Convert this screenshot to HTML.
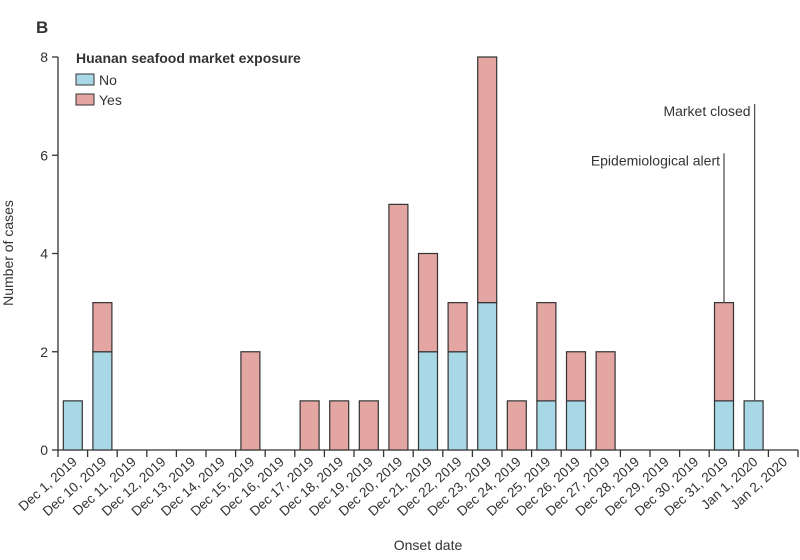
<!DOCTYPE html>
<html><head><meta charset="utf-8"><style>
body{margin:0;background:#fff;}
svg text{font-family:"Liberation Sans",sans-serif;fill:#333;}
</style></head><body>
<svg id="chart" width="800" height="555">
<text x="36" y="33" font-size="17" font-weight="bold">B</text>
<g id="axes"></g><g id="bars"></g>
<g>
<text x="76" y="63" font-size="14" font-weight="bold">Huanan seafood market exposure</text>
<rect x="76" y="74" width="18" height="11" fill="#a8d8e6" stroke="#333"/>
<text x="99" y="85" font-size="14">No</text>
<rect x="76" y="94" width="18" height="11" fill="#e3a6a2" stroke="#333"/>
<text x="99" y="105" font-size="14">Yes</text>
</g>
<text x="428" y="550" font-size="14" text-anchor="middle">Onset date</text>
<text transform="translate(13,253) rotate(-90)" font-size="14" text-anchor="middle">Number of cases</text>
</svg>
<script>
const categories=["Dec 1, 2019","Dec 10, 2019","Dec 11, 2019","Dec 12, 2019","Dec 13, 2019","Dec 14, 2019","Dec 15, 2019","Dec 16, 2019","Dec 17, 2019","Dec 18, 2019","Dec 19, 2019","Dec 20, 2019","Dec 21, 2019","Dec 22, 2019","Dec 23, 2019","Dec 24, 2019","Dec 25, 2019","Dec 26, 2019","Dec 27, 2019","Dec 28, 2019","Dec 29, 2019","Dec 30, 2019","Dec 31, 2019","Jan 1, 2020","Jan 2, 2020"];
const noValues=[1,2,0,0,0,0,0,0,0,0,0,0,2,2,3,0,1,1,0,0,0,0,1,1,0];
const yesValues=[0,1,0,0,0,0,2,0,1,1,1,5,2,1,5,1,2,1,2,0,0,0,2,0,0];
const yTicks=[0,2,4,6,8];
const annotations=[{label:"Epidemiological alert",index:22,top:6},{label:"Market closed",index:23,top:7}];
const ns="http://www.w3.org/2000/svg";
const X0=58,X1=798,Y0=450,Y8=57;
const step=(X1-X0)/categories.length;
const xc=i=>X0+step*(i+0.5);
const y=v=>Y0-(Y0-Y8)*v/8;
function mk(tag,attrs,parent,text){const e=document.createElementNS(ns,tag);for(const k in attrs)e.setAttribute(k,attrs[k]);if(text!==undefined)e.textContent=text;parent.appendChild(e);return e;}
const ax=document.getElementById('axes'),bg=document.getElementById('bars');
let e=mk('line',{x1:X0,y1:Y8,x2:X0,y2:Y0,stroke:'#333','stroke-width':1.3},ax);


e=mk('line',{x1:X0,y1:Y0,x2:X1,y2:Y0,stroke:'#333','stroke-width':1.3},ax);


yTicks.forEach(t=>{
 e=mk('line',{x1:X0-6,y1:y(t),x2:X0,y2:y(t),stroke:'#333','stroke-width':1.3},ax);
 
 
 e=mk('text',{x:X0-10,y:y(t)+5,'font-size':14,'text-anchor':'end'},ax,String(t));
 
 
});
for(let k=0;k<=categories.length;k++){
 e=mk('line',{x1:X0+step*k,y1:Y0,x2:X0+step*k,y2:Y0+7,stroke:'#333','stroke-width':1.3},ax);
 
 
}
categories.forEach((c,i)=>{
 const cx=xc(i)+5,cy=Y0+13;
 e=mk('text',{x:cx,y:cy,'font-size':13.5,'text-anchor':'end',transform:`rotate(-42 ${cx} ${cy})`},ax,c);
 
 
});
const bw=19;
categories.forEach((c,i)=>{
 const n=noValues[i],s=yesValues[i];
 if(n>0){e=mk('rect',{x:xc(i)-bw/2,y:y(n),width:bw,height:y(0)-y(n),fill:'#a8d8e6',stroke:'#333','stroke-width':1.2},bg);
  
  }
 if(s>0){e=mk('rect',{x:xc(i)-bw/2,y:y(n+s),width:bw,height:y(n)-y(n+s),fill:'#e3a6a2',stroke:'#333','stroke-width':1.2},bg);
  
  }
});
annotations.forEach(a=>{
 const i=a.index,tot=noValues[i]+yesValues[i];
 const lx=xc(i)+(a.index===23?1:0);
 e=mk('line',{x1:lx,y1:y(a.top)-2,x2:lx,y2:y(tot),stroke:'#555','stroke-width':1.3},bg);
 
 
 e=mk('text',{x:lx-4,y:y(a.top)+10,'font-size':14,'text-anchor':'end'},bg,a.label);
 
 
});
</script>
</body></html>
